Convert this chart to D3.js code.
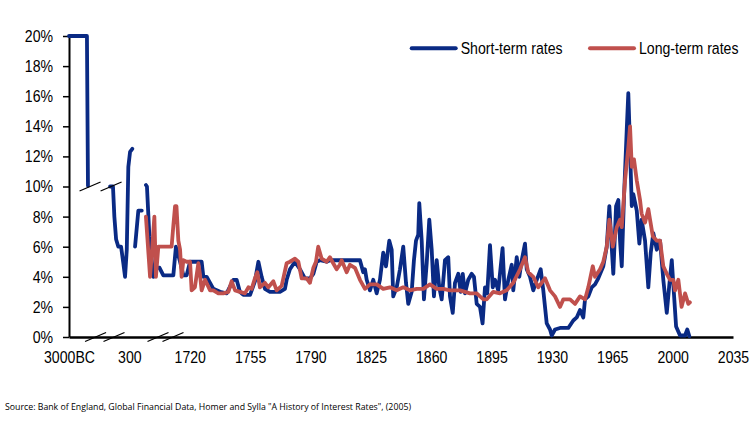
<!DOCTYPE html>
<html>
<head>
<meta charset="utf-8">
<script src="https://cdn.jsdelivr.net/npm/d3@7"></script>
<style>
  html, body { margin: 0; padding: 0; background: #fff; }
  svg { display: block; }
  .lbl { font-family: "Liberation Sans Narrow", "Arial Narrow", "Liberation Sans", Arial, sans-serif; font-size: 17px; fill: #000; }
  .src { font-family: "Open Sans", "Noto Sans", sans-serif; font-size: 9px; fill: #000; }
</style>
</head>
<body>
<svg id="chart" width="756" height="429"></svg>
<script>
// x positions are in axis units: the first two ticks stand for 3000BC and 300 AD (compressed scale)
const tickPositions = [1650, 1685, 1720, 1755, 1790, 1825, 1860, 1895, 1930, 1965, 2000, 2035];
const tickLabels = ["3000BC", "300", "1720", "1755", "1790", "1825", "1860", "1895", "1930", "1965", "2000", "2035"];
const yTicks = [0, 2, 4, 6, 8, 10, 12, 14, 16, 18, 20];
const seriesNames = ["Short-term rates", "Long-term rates"];

// Short-term rates (null = break in the line)
const shortX = [
  1650, 1660.4, 1661, null,
  1673.8, 1675.5, 1676.3, 1677.3, 1678.6, 1680.2, 1681.5, 1682.5, 1683.5, 1684.4, 1685.4, 1686.7, null,
  1688.3, 1690.2, 1692.2, null,
  1694.6, 1695.2, 1696.6, 1698.9, 1700.8, 1702.5, 1704.7, 1710.5, 1712, 1714.4, 1716.3, 1718.2,
  1720.2, 1723, 1726.9, 1727.9, 1729.8, 1731.8, 1733.7, 1737.6, 1741.4, 1745.3, 1747.2, 1749.1, 1751.1, 1755,
  1757.8, 1759.8, 1761.7, 1763.6, 1766.5, 1772.3, 1775.2, 1776.2, 1778.1, 1781, 1783.9, 1786.8, 1789.7,
  1791.7, 1793.6, 1795.5, 1799.4, 1801.3, 1810, 1818.7, 1820.6, 1821.6, 1822.6, 1824.5, 1826.4, 1828.4,
  1830.3, 1832.2, 1833.8, 1835.7, 1837.1, 1838, 1840, 1841.9, 1843.8, 1845.4, 1846.7, 1848.7, 1850, 1851.2,
  1852.5, 1853.1, 1854.5, 1855.8, 1857.4, 1858.9, 1860.3, 1861.6, 1863.2, 1864.7, 1866.1, 1868, 1869.9,
  1870.9, 1872.5, 1873.8, 1875.7, 1877.1, 1878.3, 1879.6, 1881.5, 1883.5, 1884.8, 1886.4, 1888.3, 1889.8,
  1891.2, 1892.5, 1894.1, 1895.7, 1897, 1898.9, 1901.4, 1902.8, 1904.7, 1906.7, 1907.6, 1909.6, 1911.1,
  1912.5, 1914.4, 1915.4, 1917.3, 1919.2, 1921.2, 1923.5, 1925, 1927, 1928.9, 1929.9, 1931.8, 1934.7,
  1939.5, 1942.4, 1944.4, 1946.3, 1948.2, 1949.2, 1951.1, 1953.1, 1955, 1956.9, 1959.8, 1961.8, 1963.3,
  1964.3, 1965.6, 1967.2, 1968.5, 1969.5, 1970.5, 1971.8, 1973.4, 1974.3, 1975.3, 1976.3, 1977.2, 1979.2,
  1980.7, 1982, 1984, 1985.9, 1987.3, 1988.8, 1990.8, 1992.7, 1994.6, 1996.6, 1998.1, 1999.5, 2000.4,
  2002, 2004.3, 2007.2, 2008.5, 2009.7
];
const shortRates = [
  20, 20, 10.05, null,
  10, 10, 8, 6.5, 6, 6, 4.9, 4, 5.8, 11.3, 12.3, 12.5, null,
  6, 8.4, 8.4, null,
  10.1, 10, 6.7, 4, 4.6, 4.6, 4.1, 4.1, 6, 5, 4.1, 4.1,
  5, 5, 5, 4, 4, 3.6, 3.2, 3, 2.9, 3.8, 3.8, 3, 2.8, 2.8,
  3.7, 5, 4, 3.2, 3, 3, 3.2, 3.8, 4.5, 5, 4.5, 3.9, 3.9,
  4.2, 5, 5.1, 5, 5.1, 5.1, 5.1, 4.3, 4.5, 3.8, 3.1, 3.8, 2.9,
  3.8, 5.6, 4.7, 6.4, 5.8, 2.7, 3.3, 4.5, 6, 3.6, 2.2, 3, 5.1, 6.4,
  6.8, 8.9, 6.4, 2.5, 4.9, 7.8, 5.8, 2.7, 5.1, 3.3, 2.5, 5.1, 5.3,
  2.7, 1.6, 3.6, 4.2, 3, 4.2, 2.9, 3.8, 4.2, 4, 2.2, 2, 0.9,
  3.3, 2.9, 6.1, 3.3, 3.8, 3.1, 5.9, 2.5, 3.8, 4.8, 3.1, 5.3, 4,
  5.1, 6.2, 4.5, 4, 3.1, 3.8, 4.5, 3.1, 0.9, 0.5, 0.1, 0.5, 0.6,
  0.6, 1.1, 1.3, 1.8, 1.3, 2.5, 2.7, 3.3, 3.5, 3.9, 4.7, 6, 8.7,
  6.7, 4.2, 8.7, 9.1, 6.4, 4.7, 9.3, 13.8, 16.2, 12.6, 8.7, 9.5, 8.4,
  6.2, 7.8, 6.4, 3.3, 5.6, 6.9, 5.8, 6.4, 3.8, 1.6, 3.5, 5.1, 3.5,
  0.7, 0.1, 0.1, 0.5, 0.05
];

// Long-term rates
const longX = [
  1694.6, 1697, 1698, 1699.5, 1700.4, 1701.8, 1709.5, 1710.5, 1711.5, 1712.3, 1713.4, 1714.4, 1715.3,
  1716.3, 1718.2, 1720.2, 1721.1, 1723, 1725, 1725.9, 1726.9, 1728.9, 1731.8, 1733.7, 1736.6, 1739.5,
  1742.4, 1744.3, 1746.3, 1749.1, 1752, 1754, 1755.9, 1757.8, 1759.2, 1760.7, 1763.6, 1765.6, 1768.5,
  1770.4, 1773.3, 1776.2, 1778.1, 1781, 1783, 1784.9, 1787.8, 1789.7, 1791.7, 1793.2, 1794.5, 1796.5,
  1799.4, 1801.3, 1803.2, 1805.2, 1807, 1808.1, 1811, 1812.9, 1815.8, 1818.7, 1821.6, 1824.5, 1828.4,
  1832.2, 1836.1, 1840, 1843.8, 1847.7, 1851.6, 1855.4, 1859.3, 1863.2, 1867, 1870.9, 1876.7, 1882.5,
  1886.4, 1888.3, 1890.3, 1892.2, 1896, 1899.9, 1903.8, 1907.6, 1911.5, 1914.4, 1916.3, 1919.2, 1922.1,
  1926, 1928.9, 1931.8, 1934.7, 1936.6, 1940.5, 1943.4, 1946.3, 1949.2, 1951.1, 1953.7, 1955, 1957.9,
  1959.8, 1961.8, 1963.3, 1965.3, 1967.6, 1969.5, 1970.5, 1972.4, 1974.3, 1975.3, 1976.3, 1977.6, 1979.2,
  1981.1, 1982, 1984, 1985.9, 1986.9, 1988.5, 1990.8, 1992.7, 1994.6, 1996.6, 1998.5, 2000.4, 2001.4,
  2003.3, 2005.2, 2007.2, 2009.1, 2010
];
const longRates = [
  8, 4, 5.5, 8, 4, 6, 6, 7.4, 8.7, 8.7, 6.4, 5.8, 4,
  5.1, 5, 5, 3.1, 3.3, 4.9, 4.2, 3.1, 3.8, 3.1, 3.1, 2.9, 2.9,
  3, 3.7, 3.1, 3, 2.9, 3.3, 3.2, 3.9, 4.3, 3.3, 3.6, 3.3, 3.7,
  3.1, 3.4, 4.9, 5, 5.2, 5, 3.9, 3.9, 3.6, 4.6, 5, 6, 5.2,
  5, 5.3, 4.9, 4.5, 4.8, 5.1, 4.3, 4.8, 4.6, 3.8, 3.2, 3.5, 3.5,
  3.2, 3.3, 3.1, 3.3, 3.1, 3.2, 3.2, 3.5, 3.2, 3.2, 3.1, 3.1, 2.9,
  2.9, 2.7, 2.5, 2.5, 3, 2.9, 3.1, 3.6, 4.5, 5.3, 4.3, 4, 3.3,
  3.9, 3.1, 2.7, 2, 2.5, 2.5, 2.2, 2.7, 2.5, 3.3, 4.7, 4, 4.5,
  5, 6, 7.8, 6, 7.3, 7.8, 7.3, 10.4, 12.6, 14, 11.3, 11.8, 10.4,
  9.1, 8.2, 7.6, 8.5, 7.8, 6.7, 6.4, 6.4, 4.7, 4.2, 3.8, 3.8, 3.1,
  3.8, 2, 2.9, 2.2, 2.3
];

const colors = ["#0a2a84", "#c0504d"];

const svg = d3.select("#chart");
const x = d3.scaleLinear().domain([1650, 2035]).range([69, 733]);
const y = d3.scaleLinear().domain([0, 20]).range([337, 36]);

// Y axis
const yAxis = svg.append("g").attr("transform", "translate(69,0)")
  .call(d3.axisLeft(y).tickValues(yTicks).tickFormat(d => d + "%").tickSize(6).tickSizeOuter(0).tickPadding(10));
yAxis.select(".domain").attr("stroke", "#000").attr("stroke-width", 2);
yAxis.selectAll(".tick line").attr("stroke", "#000").attr("stroke-width", 1.5);
yAxis.selectAll(".tick text").attr("class", "lbl").attr("font-family", null).attr("font-size", null);

// X axis
const xAxis = svg.append("g").attr("transform", "translate(0,337)")
  .call(d3.axisBottom(x).tickValues(tickPositions).tickFormat((d, i) => tickLabels[i]).tickSize(0).tickSizeOuter(0).tickPadding(14));
xAxis.select(".domain").attr("stroke", "#000").attr("stroke-width", 2.5);
xAxis.selectAll(".tick text").attr("class", "lbl").attr("font-family", null).attr("font-size", null);

// Lines
function pts(xs, ys) { return xs.map((v, i) => ({ x: v, y: ys[i] })); }
const line = d3.line().defined(d => d.x !== null && d.y !== null).x(d => x(d.x)).y(d => y(d.y));
const data = [pts(shortX, shortRates), pts(longX, longRates)];
svg.append("g").selectAll("path").data(data).join("path")
  .attr("d", line).attr("fill", "none")
  .attr("stroke", (d, i) => colors[i]).attr("stroke-width", 3.8)
  .attr("stroke-linejoin", "round").attr("stroke-linecap", "round");

// Axis break markers
const breakX = [1665.4, 1676.1, 1701.6, 1710.3];
const breakY10 = [1662.2, 1674.4];
svg.append("g").selectAll("line").data(breakX).join("line")
  .attr("x1", d => x(d) - 10.5).attr("x2", d => x(d) + 10.5)
  .attr("y1", y(0) + 4.5).attr("y2", y(0) - 4.5)
  .attr("stroke", "#000").attr("stroke-width", 1.3);
svg.append("g").selectAll("line").data(breakY10).join("line")
  .attr("x1", d => x(d) - 10.5).attr("x2", d => x(d) + 10.5)
  .attr("y1", y(10) + 4.5).attr("y2", y(10) - 4.5)
  .attr("stroke", "#000").attr("stroke-width", 1.3);

// Legend
const legendX = [411.7, 590];
const lg = svg.append("g");
seriesNames.forEach((name, i) => {
  lg.append("line").attr("x1", legendX[i]).attr("x2", legendX[i] + 44)
    .attr("y1", 48.3).attr("y2", 48.3).attr("stroke", colors[i]).attr("stroke-width", 4).attr("stroke-linecap", "round");
  lg.append("text").attr("class", "lbl").attr("x", legendX[i] + 49).attr("y", 48.3).attr("dy", "0.35em").text(name);
});

// Condense the label font horizontally (narrow face look)
const squeeze = 0.83;
svg.selectAll("text.lbl").each(function () {
  const t = d3.select(this);
  const x0 = +t.attr("x") || 0;
  t.attr("x", x0 / squeeze).attr("transform", `scale(${squeeze},1)`);
});

// Source
svg.append("text").attr("class", "src").attr("x", 5).attr("y", 407).attr("dy", "0.35em")
  .attr("textLength", 406).attr("lengthAdjust", "spacingAndGlyphs")
  .text("Source: Bank of England, Global Financial Data, Homer and Sylla \"A History of Interest Rates\", (2005)");
</script>
</body>
</html>
